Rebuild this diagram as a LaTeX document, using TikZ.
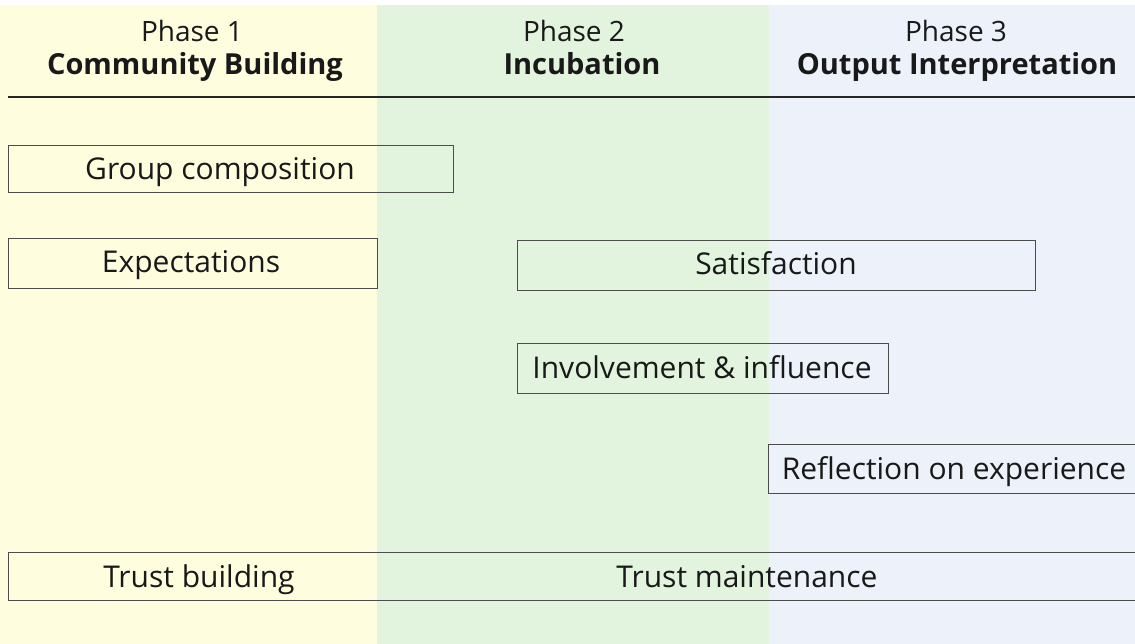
\documentclass[tikz,border=0pt]{standalone}
\usepackage{fontspec}
\setmainfont{Open Sans}
\definecolor{phaseyellow}{HTML}{FEFEDF}
\definecolor{phasegreen}{HTML}{E2F4DE}
\definecolor{phaseblue}{HTML}{ECF1FA}
\definecolor{boxline}{HTML}{4C4C4C}
\begin{document}
\begin{tikzpicture}[x=1pt,y=-1pt,
  phasetext/.style={font=\fontsize{28}{34}\selectfont, text=black!90, inner sep=0pt, anchor=base},
  phasetitle/.style={font=\fontsize{29}{34}\selectfont\bfseries, text=black!90, inner sep=0pt, anchor=base},
  bartext/.style={font=\fontsize{30}{34}\selectfont, text=black!90, inner sep=0pt, anchor=base},
  bar/.style={draw=boxline, line width=0.9pt}]
\useasboundingbox (0,0) rectangle (1135,644);
\fill[white] (0,0) rectangle (1135,644);
% phase backgrounds
\fill[phaseyellow] (0,5) rectangle (377,644);
\fill[phasegreen] (377,5) rectangle (769,644);
\fill[phaseblue] (769,5) rectangle (1135,644);
% headers
\node[phasetext] (p1) at (192,42) {Phase 1};
\node[phasetitle] (p1t) at (195,75) {Community Building};
\node[phasetext] (p2) at (574,42) {Phase 2};
\node[phasetitle] (p2t) at (582,75) {Incubation};
\node[phasetext] (p3) at (956,42) {Phase 3};
\node[phasetitle] (p3t) at (957,75) {Output Interpretation};
\draw[line width=1.2pt, black!85] (8,97) -- (1135,97);
% activity bars
\draw[bar] (8,145) rectangle (453,192);
\node[bartext] (grp) at (220,180) {Group composition};
\draw[bar] (8,238) rectangle (377,288);
\node[bartext] (exp) at (191,273) {Expectations};
\draw[bar] (517,240) rectangle (1035,290);
\node[bartext] (sat) at (776,275) {Satisfaction};
\draw[bar] (517,343) rectangle (888,393);
\node[bartext] (inv) at (702,378) {Involvement \& influence};
\draw[bar] (768,444) rectangle (1140,493);
\node[bartext] (ref) at (954,479) {Reflection on experience};
\draw[bar] (8,552) rectangle (1140,600);
\node[bartext] (tb) at (199,587) {Trust building};
\node[bartext] (tm) at (747,587) {Trust maintenance};
\end{tikzpicture}
\end{document}
